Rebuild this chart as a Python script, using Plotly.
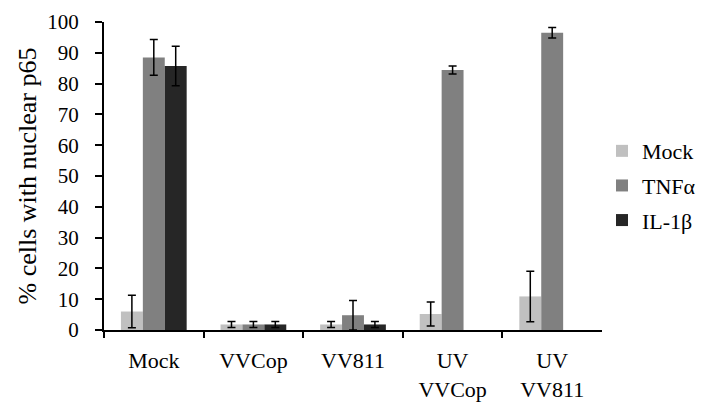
import plotly.graph_objects as go

categories = ["Mock", "VVCop", "VV811", "UV<br>VVCop", "UV<br>VV811"]
series_names = ["Mock", "TNFα", "IL-1β"]
mock_vals = [6.0, 1.8, 1.8, 5.2, 10.9]
mock_err = [5.3, 1.0, 1.0, 3.9, 8.2]
tnf_vals = [88.5, 1.8, 4.8, 84.4, 96.5]
tnf_err = [5.8, 1.0, 4.8, 1.3, 1.7]
il1_vals = [85.7, 1.8, 1.8, None, None]
il1_err = [6.4, 1.0, 1.0, None, None]
colors = ["#c0c0c0", "#808080", "#262626"]
y_ticks = list(range(0, 101, 10))

FONT = "Liberation Serif"

# page body has an 8px default margin; figure is sized so it fits the 706x407 window
fig = go.Figure()
for name, vals, errs, col in zip(series_names, [mock_vals, tnf_vals, il1_vals],
                                 [mock_err, tnf_err, il1_err], colors):
    fig.add_trace(go.Bar(
        x=categories, y=vals, name=name,
        marker=dict(color=col, line=dict(color=col, width=0)),
        error_y=dict(type="data", array=errs, visible=True,
                     color="black", thickness=1.5, width=4),
        legendgroup=name,
    ))

fig.update_layout(
    width=698, height=399,
    margin=dict(l=96, r=80, t=14, b=77),
    paper_bgcolor="white", plot_bgcolor="white",
    barmode="group", bargap=0.34, bargroupgap=0,
    font=dict(family=FONT, size=20, color="black"),
    showlegend=True,
    legend=dict(xref="container", yref="container",
                x=0.851, xanchor="left", y=0.555, yanchor="middle",
                font=dict(family=FONT, size=22, color="black"),
                tracegroupgap=3, bgcolor="rgba(0,0,0,0)",
                itemwidth=30),
    xaxis=dict(
        automargin=False,
        showline=True, linecolor="black", linewidth=2,
        ticks="outside", tickson="boundaries", ticklen=6, tickwidth=2,
        tickcolor="black", showgrid=False, mirror=False,
        ticklabelstandoff=10,
        tickfont=dict(family=FONT, size=22, color="black"),
    ),
    yaxis=dict(
        automargin=False,
        range=[0, 100], tickvals=y_ticks,
        showline=True, linecolor="black", linewidth=2,
        ticks="outside", ticklen=7, tickwidth=2, tickcolor="black",
        ticklabelstandoff=12,
        showgrid=False, zeroline=False,
        tickfont=dict(family=FONT, size=21, color="black"),
        title=dict(text="% cells with nuclear p65", standoff=3,
                   font=dict(family=FONT, size=26, color="black")),
    ),
)

fig.write_html("out.html")
